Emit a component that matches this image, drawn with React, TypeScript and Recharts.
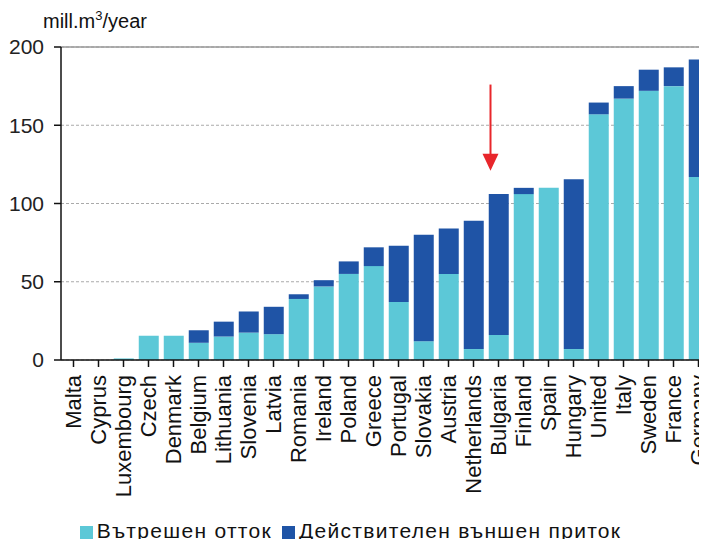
import { BarChart, Bar, XAxis, YAxis, CartesianGrid, Legend, ReferenceLine } from 'recharts'

const countries = [
  'Malta', 'Cyprus', 'Luxembourg', 'Czech', 'Denmark', 'Belgium', 'Lithuania', 'Slovenia', 'Latvia',
  'Romania', 'Ireland', 'Poland', 'Greece', 'Portugal', 'Slovakia', 'Austria', 'Netherlands',
  'Bulgaria', 'Finland', 'Spain', 'Hungary', 'United', 'Italy', 'Sweden', 'France', 'Germany',
]
// internal flow (light) and actual external inflow (dark), mill. m3 / year
const internalFlow = [0, 0, 1, 15.5, 15.5, 11, 15, 17.5, 16.5, 39, 47, 55, 60, 37, 12, 55, 7, 16, 106, 110, 7, 157, 167, 172, 175, 117]
const externalFlow = [0, 0, 0, 0, 0, 8, 9.5, 13.5, 17.5, 3, 4, 8, 12, 36, 68, 29, 82, 90, 4, 0, 108.5, 7.5, 8, 13.5, 12, 75]
const yTicks = [0, 50, 100, 150, 200]
const seriesNames = ['Вътрешен отток', 'Действителен външен приток']
const arrowCountry = 'Bulgaria'
const arrowFrom = 176
const arrowTo = 121

const data = countries.map((c, i) => ({ country: c, internal: internalFlow[i], external: externalFlow[i] }))

const FONT = '"Liberation Sans", Arial, sans-serif'

function CountryTick({ x, y, payload }: any) {
  return (
    <text
      transform={`translate(${x},${y + 6}) rotate(-90)`}
      textAnchor="end"
      dy="0.36em"
      fontSize={22}
      fontFamily={FONT}
      fill="#111"
    >
      {payload.value}
    </text>
  )
}

function Arrow(props: any) {
  const { x1, y1, y2 } = props
  const x = x1 - 8
  return (
    <g>
      <line x1={x} y1={y1} x2={x} y2={y2 - 16} stroke="#e8262b" strokeWidth={2} />
      <polygon points={`${x - 8},${y2 - 17} ${x + 8},${y2 - 17} ${x},${y2}`} fill="#e8262b" />
    </g>
  )
}

export default function App() {
  return (
    <div style={{ margin: -8, width: 707, height: 547, overflow: 'hidden', position: 'relative', background: '#fff' }}>
      <BarChart
        width={720}
        height={547}
        data={data}
        margin={{ top: 47, right: 9, left: 0, bottom: 4 }}
        barCategoryGap="11%"
      >
        <text x={43} y={28} fontSize={20} fontFamily={FONT} fill="#111">
          mill.m<tspan dy={-8} fontSize={13}>3</tspan>
          <tspan dy={8}>/year</tspan>
        </text>
        <CartesianGrid vertical={false} stroke="#aaa" strokeDasharray="3 2" />
        <ReferenceLine y={200} stroke="#999" strokeWidth={1.5} />
        <XAxis
          dataKey="country"
          interval={0}
          height={159}
          tick={<CountryTick />}
          tickSize={7}
          axisLine={{ stroke: '#111', strokeWidth: 1.5 }}
          tickLine={{ stroke: '#111', strokeWidth: 1.5 }}
        />
        <YAxis
          width={61}
          domain={[0, 200]}
          ticks={yTicks}
          tickSize={7}
          tickMargin={10}
          tick={{ fill: '#222', fontSize: 21, fontFamily: FONT }}
          axisLine={{ stroke: '#111', strokeWidth: 1.5 }}
          tickLine={{ stroke: '#111', strokeWidth: 1.5 }}
        />
        <Legend
          verticalAlign="bottom"
          iconType="square"
          iconSize={13}
          wrapperStyle={{ fontFamily: FONT, fontSize: 21, color: '#111', letterSpacing: 1.3 }}
          formatter={(v: string) => <span style={{ color: '#111' }}>{v}</span>}
        />
        <Bar dataKey="internal" name={seriesNames[0]} stackId="a" fill="#5cc8d7" isAnimationActive={false} />
        <Bar dataKey="external" name={seriesNames[1]} stackId="a" fill="#1f54a6" isAnimationActive={false} />
        <ReferenceLine
          segment={[{ x: arrowCountry, y: arrowFrom }, { x: arrowCountry, y: arrowTo }]}
          shape={<Arrow />}
        />
      </BarChart>
    </div>
  )
}
